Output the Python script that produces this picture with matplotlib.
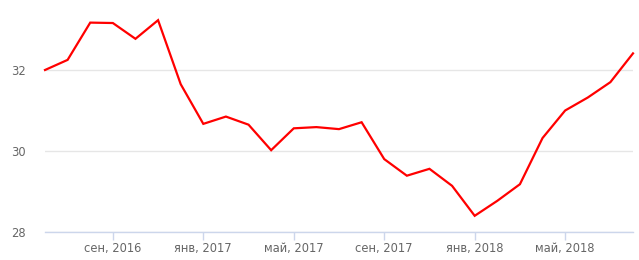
import matplotlib
matplotlib.use("Agg")
import matplotlib.pyplot as plt

months = ["2016-06", "2016-07", "2016-08", "2016-09", "2016-10", "2016-11", "2016-12",
          "2017-01", "2017-02", "2017-03", "2017-04", "2017-05", "2017-06", "2017-07",
          "2017-08", "2017-09", "2017-10", "2017-11", "2017-12", "2018-01", "2018-02",
          "2018-03", "2018-04", "2018-05", "2018-06", "2018-07", "2018-08"]
values = [32.0, 32.25, 33.17, 33.16, 32.77, 33.23, 31.65,
          30.67, 30.85, 30.65, 30.02, 30.56, 30.59, 30.54,
          30.71, 29.80, 29.39, 29.56, 29.14, 28.40, 28.77,
          29.18, 30.32, 31.0, 31.32, 31.70, 32.41]
tick_months = ["2016-09", "2017-01", "2017-05", "2017-09", "2018-01", "2018-05"]
tick_labels = ["сен, 2016", "янв, 2017", "май, 2017", "сен, 2017", "янв, 2018", "май, 2018"]
y_ticks = [28, 30, 32]

W, H = 639, 260
fig = plt.figure(figsize=(W / 100, H / 100), dpi=100)
ax = fig.add_axes([45 / W, (H - 232) / H, (633 - 45) / W, (232 - 9) / H])

x = list(range(len(months)))
ax.plot(x, values, color="#ff0000", lw=1.6, solid_joinstyle="miter", clip_on=False, zorder=3)

ax.set_xlim(0, len(months) - 1)
ax.set_ylim(28, 28 + (232 - 9) / 40.5)

ax.set_yticks(y_ticks)
ax.set_yticklabels([str(v) for v in y_ticks])
ax.set_xticks([months.index(m) for m in tick_months])
ax.set_xticklabels(tick_labels)

for s in ["top", "right", "left"]:
    ax.spines[s].set_visible(False)
ax.spines["bottom"].set_color("#ccd6eb")
ax.spines["bottom"].set_linewidth(1)

ax.grid(axis="y", color="#e6e6e6", lw=1)
ax.set_axisbelow(True)
ax.tick_params(axis="y", length=0, pad=14, labelsize=8.3, labelcolor="#666666")
ax.tick_params(axis="x", length=6, width=1, color="#ccd6eb", pad=1.5, labelsize=8.3, labelcolor="#666666")
for lab in ax.get_yticklabels():
    lab.set_horizontalalignment("right")

fig.savefig("out.png", dpi=100)
